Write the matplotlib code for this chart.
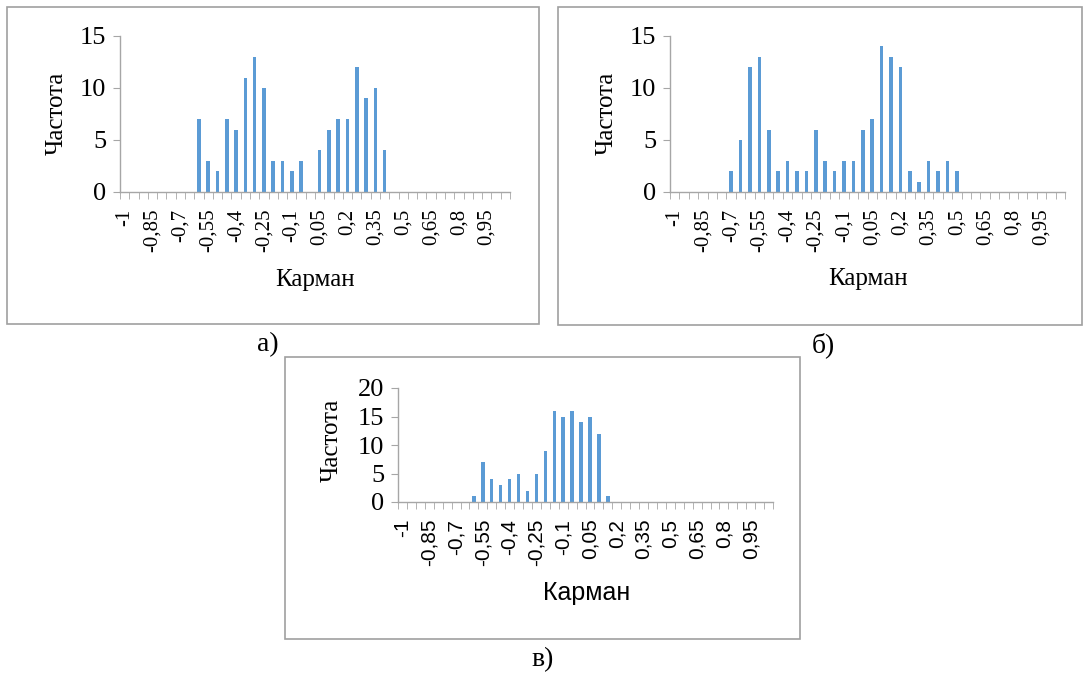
"""Три гистограммы (а, б, в) в стиле Excel: частота по карманам."""

import matplotlib
matplotlib.use("Agg")
import matplotlib.pyplot as plt
from matplotlib.patches import Rectangle


# ---------- Данные ----------
categories = ["-1", "-0,95", "-0,9", "-0,85", "-0,8", "-0,75", "-0,7",
              "-0,65", "-0,6", "-0,55", "-0,5", "-0,45", "-0,4", "-0,35",
              "-0,3", "-0,25", "-0,2", "-0,15", "-0,1", "-0,05", "0",
              "0,05", "0,1", "0,15", "0,2", "0,25", "0,3", "0,35", "0,4",
              "0,45", "0,5", "0,55", "0,6", "0,65", "0,7", "0,75", "0,8",
              "0,85", "0,9", "0,95", "1", "Еще"]

freq_a = [0, 0, 0, 0, 0, 0, 0, 0,
          7, 3, 2, 7, 6, 11, 13, 10, 3, 3, 2, 3,
          0,
          4, 6, 7, 7, 12, 9, 10, 4,
          0, 0, 0, 0, 0, 0, 0, 0, 0, 0, 0, 0, 0]

freq_b = [0, 0, 0, 0, 0, 0,
          2, 5, 12, 13, 6, 2, 3, 2, 2, 6, 3, 2, 3, 3, 6, 7, 14, 13, 12,
          2, 1, 3, 2, 3, 2,
          0, 0, 0, 0, 0, 0, 0, 0, 0, 0, 0]

freq_c = [0, 0, 0, 0, 0, 0, 0, 0,
          1, 7, 4, 3, 4, 5, 2, 5, 9, 16, 15, 16, 14, 15, 12, 1,
          0, 0, 0, 0, 0, 0, 0, 0, 0, 0, 0, 0, 0, 0, 0, 0, 0, 0]

y_ticks_ab = [0, 5, 10, 15]
y_ticks_c = [0, 5, 10, 15, 20]


# ---------- Оформление ----------
W, H = 1087, 673
BAR_COLOR = "#5B9BD5"
AXIS_COLOR = "#A6A6A6"
FRAME_COLOR = "#A0A0A0"
SERIF = "Liberation Serif"
SANS = "Liberation Sans"


def px_rect(x0, y0, x1, y1):
    """Пиксели (слева-сверху) -> [left, bottom, width, height] в долях фигуры."""
    return [x0 / W, 1 - y1 / H, (x1 - x0) / W, (y1 - y0) / H]


def frame(fig, x0, y0, x1, y1):
    fig.patches.append(Rectangle((x0 / W, 1 - y1 / H), (x1 - x0) / W, (y1 - y0) / H,
                                 transform=fig.transFigure, fill=False,
                                 edgecolor=FRAME_COLOR, linewidth=1.2))


def histogram(fig, box, freq, yticks, xfont, xlabel_font, xlabel_pos, ylabel_pos):
    ax = fig.add_axes(px_rect(*box))
    n = len(categories)
    ax.bar(range(n), freq, width=0.38, color=BAR_COLOR)
    ax.set_xlim(-0.5, n - 0.5)
    ax.set_ylim(yticks[0], yticks[-1])

    for side in ("top", "right"):
        ax.spines[side].set_visible(False)
    for side in ("left", "bottom"):
        ax.spines[side].set_color(AXIS_COLOR)
        ax.spines[side].set_linewidth(1.0)

    # подписи каждой третьей категории, засечки — между категориями
    ax.set_xticks(range(0, n, 3))
    ax.set_xticklabels(categories[::3], rotation=90, family=xfont, fontsize=15)
    ax.set_xticks([i - 0.5 for i in range(n + 1)], minor=True)
    ax.tick_params(axis="x", which="major", length=0, pad=12)
    ax.tick_params(axis="x", which="minor", length=5, color=AXIS_COLOR)

    ax.set_yticks(yticks)
    ax.set_yticklabels([str(v) for v in yticks], family=SERIF, fontsize=19)
    ax.tick_params(axis="y", length=5, color=AXIS_COLOR, pad=5)

    fig.text(xlabel_pos[0] / W, 1 - xlabel_pos[1] / H, "Карман",
             family=xlabel_font, fontsize=18, ha="center", va="center")
    fig.text(ylabel_pos[0] / W, 1 - ylabel_pos[1] / H, "Частота",
             family=SERIF, fontsize=18, rotation=90, ha="center", va="center")
    return ax


def main():
    fig = plt.figure(figsize=(W / 100, H / 100), dpi=100)

    frame(fig, 7, 7, 539, 324)
    frame(fig, 558, 7, 1082, 325)
    frame(fig, 285, 357, 800, 639)

    histogram(fig, (120, 36, 510, 192), freq_a, y_ticks_ab, SERIF, SERIF,
              (315, 280), (57, 113))
    histogram(fig, (670, 36, 1065, 192), freq_b, y_ticks_ab, SERIF, SERIF,
              (868, 279), (607, 113))
    histogram(fig, (398, 388, 773, 502), freq_c, y_ticks_c, SANS, SANS,
              (587, 593), (332, 440))

    fig.text(268 / W, 1 - 345 / H, "а)", family=SERIF, fontsize=20,
             ha="center", va="center")
    fig.text(823 / W, 1 - 345 / H, "б)", family=SERIF, fontsize=20,
             ha="center", va="center")
    fig.text(543 / W, 1 - 660 / H, "в)", family=SERIF, fontsize=20,
             ha="center", va="center")

    fig.savefig("out.png", dpi=100)
    plt.close(fig)


if __name__ == "__main__":
    main()
